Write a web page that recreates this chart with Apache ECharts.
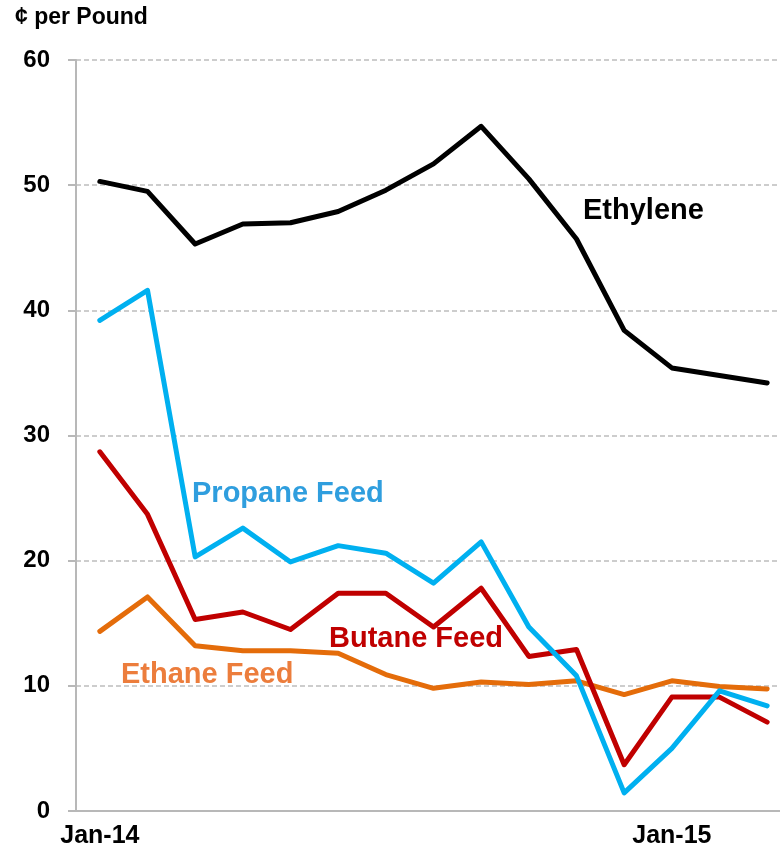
<!DOCTYPE html>
<html>
<head>
    <meta charset="utf-8">
    <title>Feed costs vs ethylene</title>
    <script src="https://cdn.jsdelivr.net/npm/echarts@6/dist/echarts.min.js"></script>
</head>
<body style="margin:0;background:#fff;">
<div id="main" style="width:780px;height:853px;"></div>
<script type="text/javascript">
    // monthly, Jan-14 .. Mar-15
    var months = ['Jan-14', 'Feb-14', 'Mar-14', 'Apr-14', 'May-14', 'Jun-14', 'Jul-14', 'Aug-14',
        'Sep-14', 'Oct-14', 'Nov-14', 'Dec-14', 'Jan-15', 'Feb-15', 'Mar-15'];

    var ethylene = [50.3, 49.5, 45.3, 46.9, 47.0, 47.9, 49.6, 51.7, 54.7, 50.5, 45.7, 38.4, 35.4, 34.8, 34.2];
    var propane  = [39.2, 41.6, 20.3, 22.6, 19.9, 21.2, 20.6, 18.2, 21.5, 14.7, 10.8, 1.45, 5.0, 9.6, 8.4];
    var butane   = [28.7, 23.7, 15.3, 15.9, 14.5, 17.4, 17.4, 14.7, 17.8, 12.35, 12.9, 3.7, 9.1, 9.1, 7.1];
    var ethane   = [14.35, 17.1, 13.2, 12.8, 12.8, 12.6, 10.9, 9.8, 10.3, 10.1, 10.4, 9.3, 10.4, 9.95, 9.75];

    var yTicks = [0, 10, 20, 30, 40, 50, 60];

    var font = 'Liberation Sans, Arial, sans-serif';
    var chart = echarts.init(document.getElementById('main'));

    function line(name, data, color) {
        return {
            name: name,
            type: 'line',
            data: data,
            symbol: 'none',
            silent: true,
            lineStyle: { color: color, width: 5, cap: 'round', join: 'round' }
        };
    }

    var option = {
        backgroundColor: '#ffffff',
        animation: false,
        // plot runs a little past the right edge of the picture
        grid: { left: 76, width: 715, top: 60, bottom: 42, outerBoundsMode: 'none' },
        xAxis: {
            type: 'category',
            data: months,
            boundaryGap: true,
            axisLine: { lineStyle: { color: '#b8b8b8', width: 2 } },
            axisTick: { interval: 11, length: 7, lineStyle: { color: '#b8b8b8', width: 2 } },
            axisLabel: {
                interval: 11,
                margin: 13,
                color: '#000',
                fontSize: 25,
                fontWeight: 'bold',
                fontFamily: font
            }
        },
        yAxis: {
            type: 'value',
            min: yTicks[0],
            max: yTicks[yTicks.length - 1],
            interval: 10,
            axisLine: { show: true, lineStyle: { color: '#b8b8b8', width: 2 } },
            axisTick: { show: true, length: 8, lineStyle: { color: '#b8b8b8', width: 2 } },
            splitLine: { lineStyle: { color: '#bdbdbd', width: 1.5, type: [5, 3] } },
            axisLabel: {
                margin: 26,
                color: '#000',
                fontSize: 24,
                fontWeight: 'bold',
                fontFamily: font
            }
        },
        graphic: [
            { type: 'text', left: 15, top: 6,
              style: { text: '¢ per Pound', fill: '#000', font: 'bold 23px ' + font } },
            { type: 'text', left: 583, top: 196,
              style: { text: 'Ethylene', fill: '#000', font: 'bold 29px ' + font } },
            { type: 'text', left: 192, top: 479,
              style: { text: 'Propane Feed', fill: '#2f9ede', font: 'bold 29px ' + font } },
            { type: 'text', left: 329, top: 624,
              style: { text: 'Butane Feed', fill: '#c00000', font: 'bold 29px ' + font } },
            { type: 'text', left: 121, top: 660,
              style: { text: 'Ethane Feed', fill: '#ec7d3c', font: 'bold 29px ' + font } }
        ],
        series: [
            line('Ethane Feed', ethane, '#e46c0a'),
            line('Butane Feed', butane, '#c00000'),
            line('Propane Feed', propane, '#00b0f0'),
            line('Ethylene', ethylene, '#000000')
        ]
    };

    chart.setOption(option);
</script>
</body>
</html>
